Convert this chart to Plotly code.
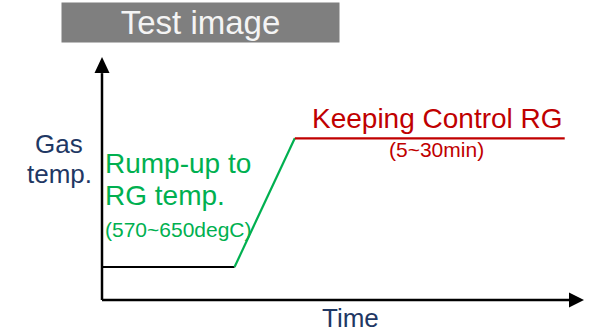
import plotly.graph_objects as go

# Temperature profile of the regeneration sequence (arbitrary units)
TIME = [0.0, 2.75, 4.0, 9.6]
TEMP = [1.0, 1.0, 4.9, 4.9]
SEGMENT_COLORS = ["#000000", "#00b050", "#c00000"]

# Axis extents (arbitrary units)
TIME_AXIS_END = 10.0
TEMP_AXIS_END = 7.36

FONT = "Arial, Liberation Sans, sans-serif"
NAVY = "#1f3864"
GREEN = "#00b050"
RED = "#c00000"

fig = go.Figure()

# Profile drawn segment by segment so each phase gets its own colour
for i, color in enumerate(SEGMENT_COLORS):
    fig.add_trace(go.Scatter(
        x=TIME[i:i + 2], y=TEMP[i:i + 2], mode="lines",
        line=dict(color=color, width=2.2), showlegend=False, hoverinfo="skip",
    ))

PX_PER_X = 48.2
PX_PER_Y = 33.0
HEAD_LEN = 15
HEAD_HALF = 7.5

shapes = [
    # time axis
    dict(type="line", xref="x", yref="y", x0=0, y0=0,
         x1=TIME_AXIS_END - HEAD_LEN / PX_PER_X, y1=0,
         line=dict(color="#000000", width=2.5)),
    dict(type="path", xref="x", yref="y", xsizemode="pixel", ysizemode="pixel",
         xanchor=TIME_AXIS_END, yanchor=0,
         path=f"M0,0 L{-HEAD_LEN},{HEAD_HALF} L{-HEAD_LEN},{-HEAD_HALF} Z",
         fillcolor="#000000", line=dict(width=0)),
    # temperature axis
    dict(type="line", xref="x", yref="y", x0=0, y0=0,
         x1=0, y1=TEMP_AXIS_END - 16 / PX_PER_Y,
         line=dict(color="#000000", width=2.5)),
    dict(type="path", xref="x", yref="y", xsizemode="pixel", ysizemode="pixel",
         xanchor=0, yanchor=TEMP_AXIS_END,
         path=f"M0,0 L{-HEAD_HALF},-16 L{HEAD_HALF},-16 Z",
         fillcolor="#000000", line=dict(width=0)),
]

def label(text, x, y, size, color, xanchor="center"):
    return dict(text=text, x=x, y=y, xref="x", yref="y", showarrow=False,
                xanchor=xanchor, yanchor="middle", borderpad=0,
                font=dict(family=FONT, size=size, color=color))

annotations = [
    dict(text="Test image", x=200.5 / 595, y=1 - 22.5 / 334, xref="paper", yref="paper",
         showarrow=False, width=277, height=39, bgcolor="#7f7f7f", borderpad=0,
         xanchor="center", yanchor="middle",
         font=dict(family=FONT, size=33, color="#f4f4f4")),
    label("Gas", -0.892, 4.73, 26, NAVY),
    label("temp.", -0.892, 3.82, 26, NAVY),
    label("Rump-up to", 0.04, 4.145, 28, GREEN, "left"),
    label("RG temp.", 0.04, 3.176, 28, GREEN, "left"),
    label("(570~650degC)", 0.04, 2.13, 21, GREEN, "left"),
    label("Keeping Control RG", 6.96, 5.5, 28, RED),
    label("(5~30min)", 6.94, 4.555, 21, RED),
    label("Time", 5.155, -0.542, 26, NAVY),
]

fig.update_layout(
    width=595, height=334,
    margin=dict(l=0, r=0, t=0, b=0),
    paper_bgcolor="#ffffff", plot_bgcolor="#ffffff",
    xaxis=dict(range=[-102 / PX_PER_X, 493 / PX_PER_X], visible=False),
    yaxis=dict(range=[-34 / PX_PER_Y, 300 / PX_PER_Y], visible=False),
    shapes=shapes, annotations=annotations,
)

fig.write_html("out.html")
